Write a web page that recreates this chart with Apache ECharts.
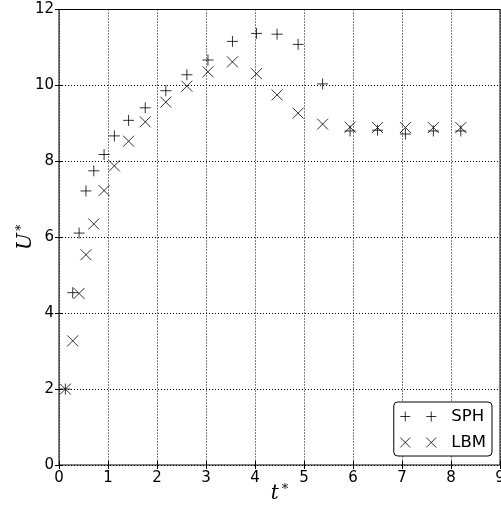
<!DOCTYPE html>
<html>
<head>
<meta charset="utf-8">
<script src="https://cdn.jsdelivr.net/npm/echarts@6/dist/echarts.min.js"></script>
<style>
  html, body { margin: 0; padding: 0; background: #fff; }
  #main { width: 501px; height: 507px; }
</style>
</head>
<body>
<div id="main"></div>
<script>
// t* sampling times (shared by both series)
var tValues = [0.13, 0.28, 0.41, 0.55, 0.71, 0.92, 1.13, 1.42, 1.76, 2.18, 2.61,
  3.04, 3.54, 4.03, 4.45, 4.88, 5.38, 5.94, 6.50, 7.07, 7.64, 8.20];
var sphValues = [2.0, 4.54, 6.11, 7.22, 7.75, 8.18, 8.67, 9.08, 9.41, 9.86, 10.28,
  10.67, 11.16, 11.37, 11.35, 11.08, 10.04, 8.80, 8.82, 8.72, 8.80, 8.80];
var lbmValues = [2.0, 3.27, 4.52, 5.54, 6.35, 7.23, 7.88, 8.53, 9.04, 9.56, 9.98,
  10.36, 10.62, 10.31, 9.75, 9.27, 8.98, 8.90, 8.89, 8.89, 8.89, 8.89];
var seriesNames = ['SPH', 'LBM'];

function pairs(xs, ys) {
  var out = [];
  for (var i = 0; i < xs.length; i++) {
    out.push([xs[i], ys[i]]);
  }
  return out;
}

var plusPath = 'path://M0,5L10,5M5,0L5,10';
var crossPath = 'path://M0,0L10,10M10,0L0,10';
// legend shows two markers per entry, like matplotlib numpoints=2
var plusLegend = 'path://M0,5L10,5M5,0L5,10M26,5L36,5M31,0L31,10M46,5';
var crossLegend = 'path://M0,0L10,10M10,0L0,10M26,0L36,10M36,0L26,10M46,5';

var tickFont = 'DejaVu Sans';
var markStyle = { color: '#000', borderColor: '#000', borderWidth: 1 };

var chart = echarts.init(document.getElementById('main'), null, { renderer: 'canvas' });

var baseX = {
  type: 'value', min: 0, max: 9, interval: 1
};
var baseY = {
  type: 'value', min: 0, max: 12, interval: 2
};

chart.setOption({
  backgroundColor: '#ffffff',
  animation: false,
  grid: {
    left: 59, top: 9.5, right: 1, bottom: 42,
    containLabel: false,
    outerBoundsMode: 'none',
    show: true, borderColor: '#000', borderWidth: 1
  },
  legend: {
    orient: 'vertical',
    right: 9,
    bottom: 51,
    padding: [6, 6, 5, 6],
    itemGap: 9,
    itemWidth: 46,
    itemHeight: 10,
    backgroundColor: '#fff',
    borderColor: '#000',
    borderWidth: 1,
    borderRadius: 4,
    textStyle: { fontFamily: tickFont, fontSize: 16.5, color: '#000', lineHeight: 16 },
    data: [
      { name: 'SPH', icon: plusLegend, itemStyle: markStyle },
      { name: 'LBM', icon: crossLegend, itemStyle: markStyle }
    ]
  },
  xAxis: [
    Object.assign({}, baseX, {
      position: 'bottom',
      name: '{i|t}{s|*}',
      nameLocation: 'middle',
      nameGap: 18,
      nameMoveOverlap: false,
      nameTextStyle: {
        rich: {
          i: { fontFamily: 'DejaVu Serif', fontStyle: 'italic', fontSize: 20, color: '#000' },
          s: { fontFamily: 'DejaVu Serif', fontSize: 13, color: '#000', verticalAlign: 'top', padding: [0, 0, 8, 3] }
        }
      },
      axisLine: { show: false },
      axisTick: { show: true, inside: true, length: 4, lineStyle: { color: '#000' } },
      axisLabel: { fontFamily: tickFont, fontSize: 15, color: '#000', margin: 6 },
      splitLine: { show: true, lineStyle: { color: '#000', type: [1, 2], width: 1 } }
    }),
    Object.assign({}, baseX, {
      position: 'top',
      axisLine: { show: false },
      axisTick: { show: true, inside: true, length: 4, lineStyle: { color: '#000' } },
      axisLabel: { show: false },
      splitLine: { show: false }
    })
  ],
  yAxis: [
    Object.assign({}, baseY, {
      position: 'left',
      name: '{i|U}{s|*}',
      nameLocation: 'middle',
      nameGap: 23,
      nameMoveOverlap: false,
      nameTextStyle: {
        rich: {
          i: { fontFamily: 'DejaVu Serif', fontStyle: 'italic', fontSize: 20, color: '#000' },
          s: { fontFamily: 'DejaVu Serif', fontSize: 13, color: '#000', verticalAlign: 'top', padding: [0, 0, 8, 2] }
        }
      },
      axisLine: { show: false },
      axisTick: { show: true, inside: true, length: 4, lineStyle: { color: '#000' } },
      axisLabel: { fontFamily: tickFont, fontSize: 15, color: '#000', margin: 5 },
      splitLine: { show: true, lineStyle: { color: '#000', type: [1, 2], width: 1 } }
    }),
    Object.assign({}, baseY, {
      position: 'right',
      axisLine: { show: false },
      axisTick: { show: true, inside: true, length: 4, lineStyle: { color: '#000' } },
      axisLabel: { show: false },
      splitLine: { show: false }
    })
  ],
  series: [
    {
      name: seriesNames[0],
      type: 'scatter',
      symbol: plusPath,
      symbolSize: 11,
      itemStyle: markStyle,
      data: pairs(tValues, sphValues),
      z: 3
    },
    {
      name: seriesNames[1],
      type: 'scatter',
      symbol: crossPath,
      symbolSize: 11,
      itemStyle: markStyle,
      data: pairs(tValues, lbmValues),
      z: 3
    }
  ]
});
</script>
</body>
</html>
